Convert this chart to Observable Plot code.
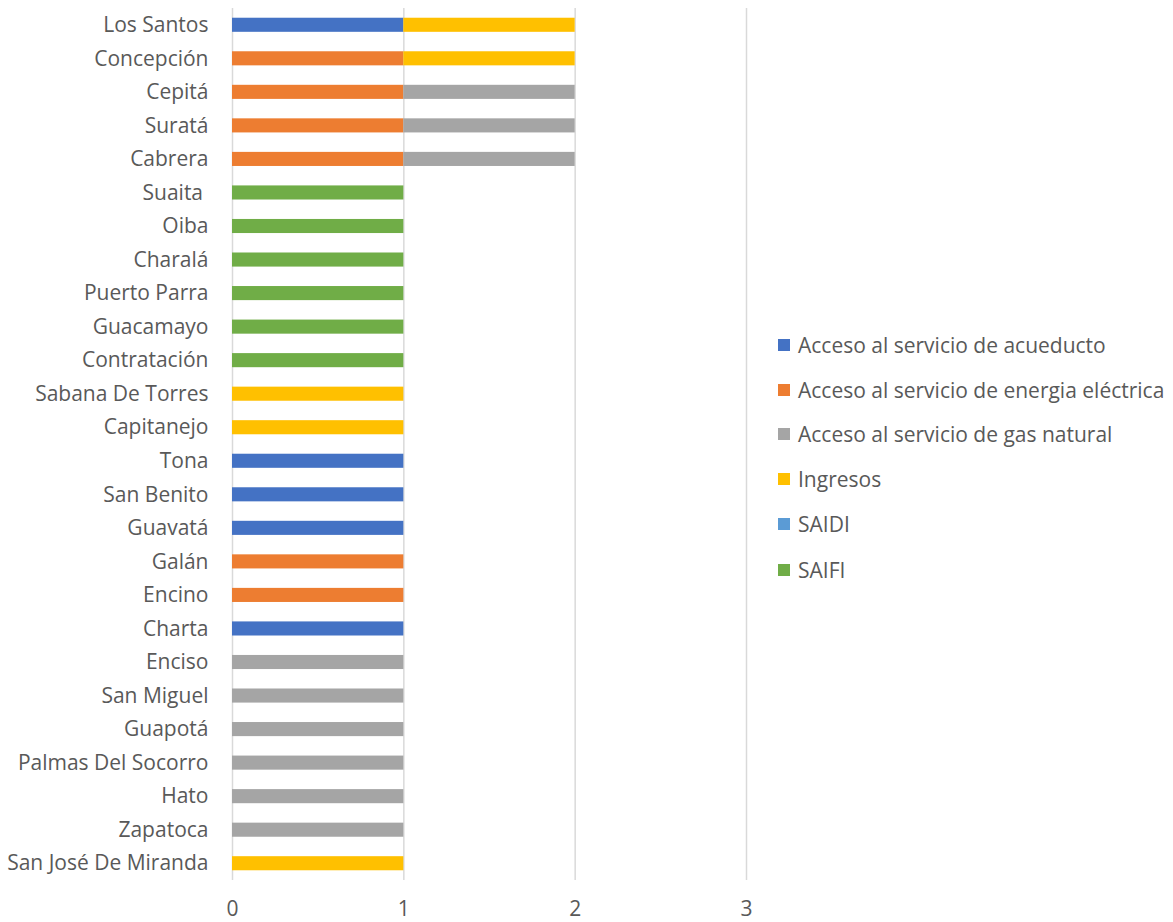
<!DOCTYPE html>
<html>
<head>
<meta charset="utf-8">
<script src="https://cdn.jsdelivr.net/npm/d3@7"></script>
<script src="https://cdn.jsdelivr.net/npm/@observablehq/plot@0.6"></script>
<style>
  html, body { margin: 0; padding: 0; background: #fff; }
  #wrap { position: relative; width: 1173px; height: 922px; font-family: "Open Sans", sans-serif; }
  #legend { position: absolute; left: 778px; top: 0; }
  .item { position: absolute; left: 0; white-space: nowrap; font-size: 21px; color: #595959; display: flex; align-items: center; }
  .sw { width: 12px; height: 12px; margin-right: 8px; display: inline-block; flex: none; }
</style>
</head>
<body>
<div id="wrap"><div id="legend"></div></div>
<script>
const municipios = ["Los Santos","Concepción","Cepitá","Suratá","Cabrera","Suaita ","Oiba","Charalá","Puerto Parra","Guacamayo","Contratación","Sabana De Torres","Capitanejo","Tona","San Benito","Guavatá","Galán","Encino","Charta","Enciso","San Miguel","Guapotá","Palmas Del Socorro","Hato","Zapatoca","San José De Miranda"];
const series = ["Acceso al servicio de acueducto","Acceso al servicio de energia eléctrica","Acceso al servicio de gas natural","Ingresos","SAIDI","SAIFI"];
const colors = ["#4472C4","#ED7D31","#A5A5A5","#FFC000","#5B9BD5","#70AD47"];
//                       LS Con Cep Sur Cab Sua Oib Cha PP Gua Con SdT Cap Ton SB Guv Gal Enc Cht Ens SM Gup PdS Hat Zap SJM
const acueducto =       [1, 0,  0,  0,  0,  0,  0,  0,  0, 0,  0,  0,  0,  1,  1, 1,  0,  0,  1,  0,  0, 0,  0,  0,  0,  0];
const energia =         [0, 1,  1,  1,  1,  0,  0,  0,  0, 0,  0,  0,  0,  0,  0, 0,  1,  1,  0,  0,  0, 0,  0,  0,  0,  0];
const gas =             [0, 0,  1,  1,  1,  0,  0,  0,  0, 0,  0,  0,  0,  0,  0, 0,  0,  0,  0,  1,  1, 1,  1,  1,  1,  0];
const ingresos =        [1, 1,  0,  0,  0,  0,  0,  0,  0, 0,  0,  1,  1,  0,  0, 0,  0,  0,  0,  0,  0, 0,  0,  0,  0,  1];
const saidi =           [0, 0,  0,  0,  0,  0,  0,  0,  0, 0,  0,  0,  0,  0,  0, 0,  0,  0,  0,  0,  0, 0,  0,  0,  0,  0];
const saifi =           [0, 0,  0,  0,  0,  1,  1,  1,  1, 1,  1,  0,  0,  0,  0, 0,  0,  0,  0,  0,  0, 0,  0,  0,  0,  0];
const xTicks = [0, 1, 2, 3];

const valuesBySeries = [acueducto, energia, gas, ingresos, saidi, saifi];
const table = [];
series.forEach((s, si) => {
  municipios.forEach((m, mi) => {
    const v = valuesBySeries[si][mi];
    if (v > 0) table.push({municipio: m, serie: s, value: v});
  });
});

const chart = Plot.plot({
  width: 1173,
  height: 922,
  marginLeft: 232,
  marginRight: 427,
  marginTop: 8,
  marginBottom: 42,
  style: {fontFamily: "'Open Sans', sans-serif", fontSize: "21px", color: "#595959", background: "transparent"},
  x: {domain: [0, 3], label: null},
  y: {domain: municipios, paddingInner: 0.58, paddingOuter: 0.29, round: false, label: null},
  color: {domain: series, range: colors},
  marks: [
    Plot.ruleX(xTicks, {stroke: "#d9d9d9", strokeWidth: 1.5}),
    Plot.barX(table, Plot.stackX({x: "value", y: "municipio", fill: "serie"})),
    Plot.axisX({ticks: xTicks, tickSize: 0, tickPadding: 21, tickFormat: d3.format("d"), fontSize: 21, label: null}),
    Plot.axisY({tickSize: 0, tickPadding: 24, fontSize: 21, label: null})
  ]
});
const wrap = document.getElementById("wrap");
chart.style.position = "absolute";
chart.style.left = "0";
chart.style.top = "0";
wrap.insertBefore(chart, wrap.firstChild);

const legendY = [345, 389.5, 434, 479, 523.5, 570];
const legend = document.getElementById("legend");
series.forEach((s, i) => {
  const it = document.createElement("div");
  it.className = "item";
  it.style.top = (legendY[i] - 14) + "px";
  it.style.height = "28px";
  const sw = document.createElement("span");
  sw.className = "sw";
  sw.style.background = colors[i];
  it.appendChild(sw);
  it.appendChild(document.createTextNode(s));
  legend.appendChild(it);
});
</script>
</body>
</html>
